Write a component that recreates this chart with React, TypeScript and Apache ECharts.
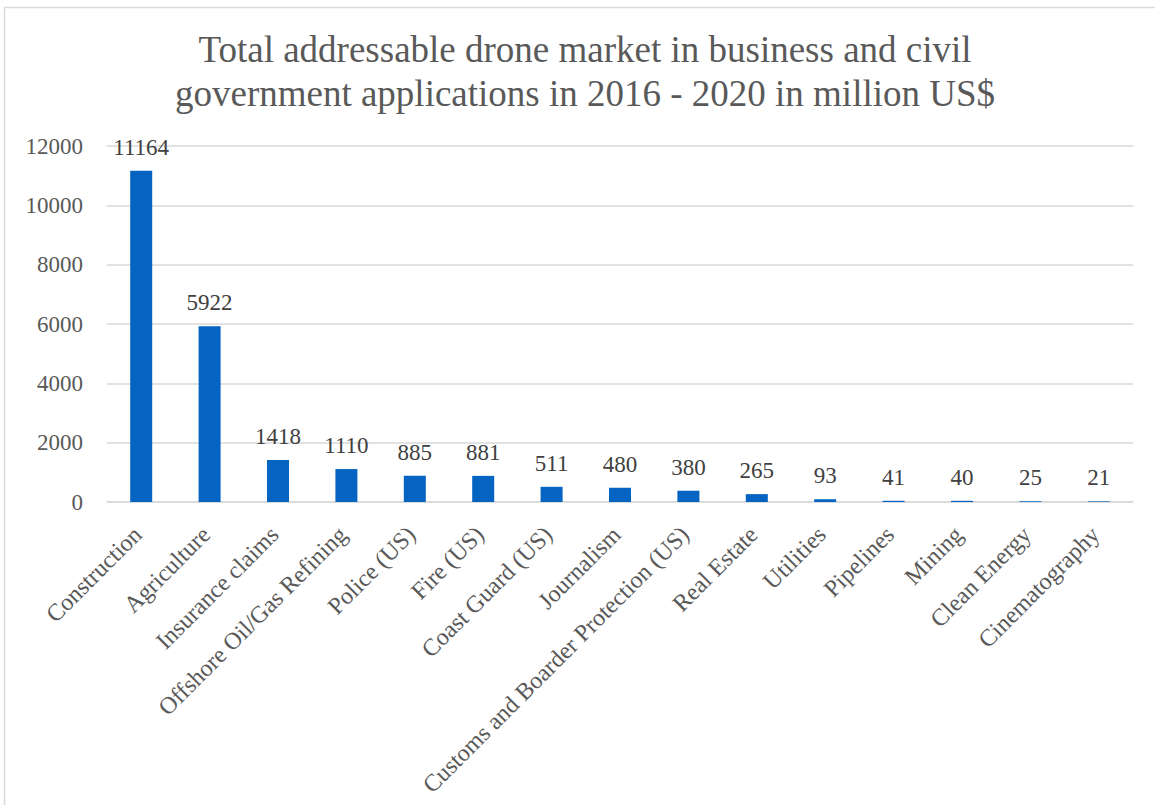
import React, { useEffect, useRef } from "react";
import * as echarts from "echarts";

const TITLE_LINES = [
  "Total addressable drone market in business and civil",
  "government applications in 2016 - 2020 in million US$",
];

const categories = [
  "Construction",
  "Agriculture",
  "Insurance claims",
  "Offshore Oil/Gas Refining",
  "Police (US)",
  "Fire (US)",
  "Coast Guard (US)",
  "Journalism",
  "Customs and Boarder Protection (US)",
  "Real Estate",
  "Utilities",
  "Pipelines",
  "Mining",
  "Clean Energy",
  "Cinematography",
];

const values = [11164, 5922, 1418, 1110, 885, 881, 511, 480, 380, 265, 93, 41, 40, 25, 21];

const yTicks = { min: 0, max: 12000, interval: 2000 };

const FONT = "'Liberation Serif', 'Times New Roman', serif";

export default function App() {
  const ref = useRef<HTMLDivElement>(null);

  useEffect(() => {
    document.body.style.margin = "0";
    const chart = echarts.init(ref.current!, undefined, { renderer: "svg" });
    chart.setOption({
      animation: false,
      backgroundColor: "#ffffff",
      graphic: [
        {
          type: "rect",
          shape: { x: 4.5, y: 7.5, width: 1300, height: 1000 },
          style: { fill: "none", stroke: "#d9d9d9", lineWidth: 1.5 },
          silent: true,
        },
        {
          type: "text",
          x: 585,
          y: 68,
          style: {
            text: TITLE_LINES[0],
            font: `37px ${FONT}`,
            fill: "#595959",
            textAlign: "center",
            textVerticalAlign: "bottom",
          },
        },
        {
          type: "text",
          x: 585,
          y: 112,
          style: {
            text: TITLE_LINES[1],
            font: `37px ${FONT}`,
            fill: "#595959",
            textAlign: "center",
            textVerticalAlign: "bottom",
          },
        },
      ],
      grid: { left: 107, right: 22, top: 146, bottom: 303, containLabel: false },
      xAxis: {
        type: "category",
        data: categories,
        axisLine: { show: true, lineStyle: { color: "#d9d9d9", width: 1.5 } },
        axisTick: { show: false },
        axisLabel: {
          interval: 0,
          rotate: 45,
          margin: 25,
          padding: [0, 5, 0, 0],
          color: "#595959",
          fontFamily: FONT,
          fontSize: 24,
        },
      },
      yAxis: {
        type: "value",
        min: yTicks.min,
        max: yTicks.max,
        interval: yTicks.interval,
        axisLine: { show: false },
        axisTick: { show: false },
        splitLine: { lineStyle: { color: "#d9d9d9", width: 1.5 } },
        axisLabel: {
          margin: 24,
          color: "#595959",
          fontFamily: FONT,
          fontSize: 23,
          formatter: (v: number) => String(v),
        },
      },
      series: [
        {
          type: "bar",
          data: values,
          barWidth: 22,
          itemStyle: { color: "#0563C1" },
          label: {
            show: true,
            position: "top",
            distance: 12,
            color: "#404040",
            fontFamily: FONT,
            fontSize: 23,
          },
        },
      ],
    });
    return () => chart.dispose();
  }, []);

  return (
    <div
      ref={ref}
      style={{ position: "absolute", left: 0, top: 0, width: 1155, height: 805 }}
    />
  );
}
